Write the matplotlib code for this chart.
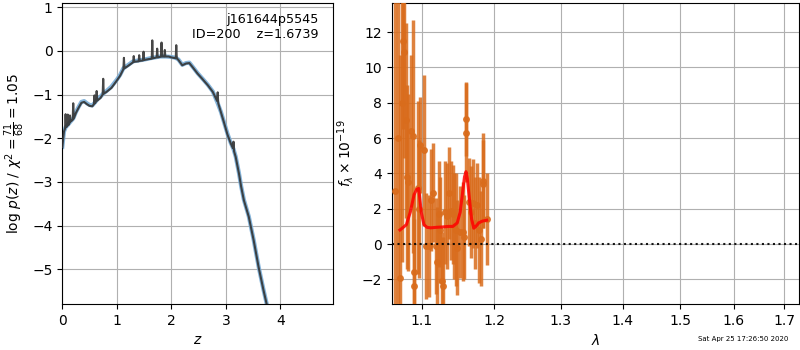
import matplotlib
matplotlib.use("Agg")
import matplotlib.pyplot as plt
from matplotlib.ticker import FixedLocator, FixedFormatter, NullLocator

# ---------------- Left panel: log p(z) ----------------
z_smooth = [0.00, 0.03, 0.06, 0.10, 0.15, 0.20, 0.25, 0.30, 0.35, 0.40, 0.45, 0.50, 0.55,
            0.60, 0.65, 0.70, 0.75, 0.81, 0.90, 1.00, 1.06, 1.12, 1.20, 1.30, 1.40, 1.50,
            1.61, 1.70, 1.79, 1.90, 2.00, 2.08, 2.13, 2.20, 2.27, 2.33, 2.40, 2.48, 2.58,
            2.67, 2.76, 2.85, 2.91, 2.97, 3.03, 3.09, 3.14, 3.18, 3.24, 3.28, 3.33, 3.42,
            3.51, 3.60, 3.69, 3.75]
logp_smooth = [-2.20, -1.85, -1.75, -1.70, -1.62, -1.55, -1.40, -1.28, -1.17, -1.15, -1.20,
               -1.24, -1.25, -1.18, -1.10, -1.05, -0.98, -0.92, -0.82, -0.66, -0.55, -0.40,
               -0.33, -0.24, -0.22, -0.20, -0.17, -0.15, -0.13, -0.13, -0.14, -0.16, -0.20,
               -0.32, -0.28, -0.27, -0.38, -0.51, -0.65, -0.78, -0.93, -1.20, -1.40, -1.65,
               -1.90, -2.11, -2.25, -2.42, -2.80, -3.10, -3.41, -3.79, -4.33, -4.94, -5.47,
               -5.80]

z_raw = [0.00, 0.03, 0.05, 0.06, 0.07, 0.09, 0.10, 0.11, 0.13, 0.14, 0.15, 0.17, 0.19,
         0.20, 0.21, 0.25, 0.30, 0.35, 0.40, 0.45, 0.50, 0.55, 0.58, 0.59, 0.60, 0.62,
         0.63, 0.64, 0.70, 0.74, 0.75, 0.76, 0.81, 0.90, 1.00, 1.06, 1.12, 1.13, 1.14,
         1.20, 1.30, 1.31, 1.32, 1.40, 1.41, 1.42, 1.48, 1.49, 1.50, 1.58, 1.64, 1.65,
         1.66, 1.70, 1.73, 1.74, 1.75, 1.79, 1.81, 1.82, 1.83, 1.87, 1.88, 1.89, 1.95,
         2.00, 2.08, 2.09, 2.10, 2.13, 2.20, 2.27, 2.33, 2.40, 2.48, 2.58, 2.67, 2.76,
         2.84, 2.85, 2.86, 2.91, 2.97, 3.03, 3.09, 3.13, 3.14, 3.15, 3.18, 3.24, 3.28,
         3.33, 3.42, 3.51, 3.60, 3.69, 3.75]
logp_raw = [-2.20, -1.85, -1.78, -1.45, -1.75, -1.72, -1.46, -1.70, -1.66, -1.48, -1.62,
            -1.60, -1.58, -1.20, -1.55, -1.42, -1.30, -1.19, -1.17, -1.22, -1.26, -1.27,
            -1.22, -1.02, -1.20, -1.16, -0.92, -1.14, -1.08, -1.00, -0.64, -0.98, -0.94,
            -0.85, -0.68, -0.57, -0.42, -0.16, -0.40, -0.35, -0.26, -0.12, -0.25, -0.24,
            -0.10, -0.23, -0.22, -0.02, -0.21, -0.19, -0.18, 0.24, -0.17, -0.16, -0.15,
            0.05, -0.15, -0.14, -0.13, 0.19, -0.13, -0.13, 0.02, -0.13, -0.13, -0.15,
            -0.17, 0.13, -0.17, -0.21, -0.33, -0.29, -0.28, -0.39, -0.52, -0.66, -0.79,
            -0.94, -1.15, -0.95, -1.20, -1.41, -1.66, -1.92, -2.12, -2.23, -2.08, -2.30,
            -2.43, -2.81, -3.11, -3.42, -3.80, -4.34, -4.95, -5.48, -5.81]

# ---------------- Right panel: spectrum ----------------
wave = [1.0656, 1.0690, 1.0717, 1.0740, 1.0759, 1.0772, 1.0790, 1.0804, 1.0824, 1.0859,
        1.0882, 1.0899, 1.0905, 1.0947, 1.0962, 1.0978, 1.1031, 1.1057, 1.1097, 1.1123,
        1.1146, 1.1187, 1.1200, 1.1231, 1.1244, 1.1275, 1.1280, 1.1312, 1.1336, 1.1371,
        1.1394, 1.1420, 1.1440, 1.1460, 1.1481, 1.1518, 1.1556, 1.1578, 1.1598, 1.1604,
        1.1643, 1.1675, 1.1703, 1.1730, 1.1759, 1.1787, 1.1807, 1.1836, 1.1845, 1.1893]
flux = [3.0, 6.0, -1.9, 8.0, 11.5, 10.9, 7.0, 3.8, 3.5, 6.4,
        6.1, -1.6, -2.4, 3.2, 2.0, 5.6, 5.3, -0.1, -0.1, 2.5,
        2.9, -0.1, -1.0, 1.7, 0.8, -2.1, -2.4, 1.8, 1.6, 2.9,
        1.9, 1.7, 1.0, 0.8, -0.2, 0.7, 0.7, 0.4, 7.1, 6.3,
        2.4, 1.8, 2.3, 1.2, 2.2, 0.8, 0.3, 3.6, 3.4, 1.4]
err = [12.0, 11.0, 12.6, 9.0, 5.0, 6.0, 5.5, 5.2, 5.0, 4.3,
       6.6, 4.5, 3.8, 4.9, 3.9, 2.7, 4.3, 3.0, 2.9, 2.9,
       2.8, 2.7, 3.1, 3.0, 3.0, 2.8, 2.8, 2.9, 3.0, 2.6,
       2.8, 2.8, 3.0, 3.2, 2.7, 2.6, 2.8, 2.4, 2.1, 2.8,
       2.5, 2.6, 2.5, 2.6, 2.4, 3.0, 2.7, 2.7, 2.5, 2.6]

model_wave = [1.0717, 1.0760, 1.0800, 1.0850, 1.0900, 1.0935, 1.0961, 1.0995, 1.1030,
              1.1070, 1.1120, 1.1200, 1.1280, 1.1360, 1.1420, 1.1480, 1.1520, 1.1550,
              1.1580, 1.1601, 1.1620, 1.1650, 1.1680, 1.1710, 1.1740, 1.1780, 1.1830,
              1.1893]
model_flux = [0.80, 0.95, 1.10, 1.80, 2.80, 3.10, 3.15, 1.80, 1.10,
              0.95, 0.92, 0.95, 0.97, 1.00, 1.00, 1.20, 1.80, 2.80,
              3.80, 4.10, 3.70, 2.50, 1.40, 0.90, 1.00, 1.20, 1.30,
              1.35]

xticks_r = [1.1, 1.2, 1.3, 1.4, 1.5, 1.6, 1.7]
xticklabels_r = ['1.1', '1.2', '1.3', '1.4', '1.5', '1.6', '1.7']

obj_name = 'j161644p5545'
obj_id = 200
z_best = 1.6739
date_str = 'Sat Apr 25 17:26:50 2020'

fig = plt.figure(figsize=(8, 3.5), dpi=100)
ax1 = fig.add_axes([0.0779, 0.131, 0.3387, 0.861])
ax2 = fig.add_axes([0.4896, 0.131, 0.5091, 0.861])

# left
ax1.plot(z_smooth, logp_smooth, color='#78acd6', lw=3.0, alpha=0.9, zorder=2)
ax1.plot(z_raw, logp_raw, color='#333333', lw=1.5, alpha=0.9, zorder=3)
ax1.set_xlim(0, 4.97)
ax1.set_ylim(-5.8, 1.1)
ax1.set_xticks([0, 1, 2, 3, 4])
ax1.set_yticks([-5, -4, -3, -2, -1, 0, 1])
ax1.grid(True)
ax1.set_axisbelow(True)
ax1.set_xlabel(r'$z$')
ax1.set_ylabel(r'$\log\,p(z)$ / $\chi^2=\frac{71}{68}=1.05$')
ax1.text(0.945, 0.965, '{0}\nID={1}    z={2:.4f}'.format(obj_name, obj_id, z_best),
         transform=ax1.transAxes, ha='right', va='top', fontsize=9.2, linespacing=1.15)

# right
ax2.errorbar(wave, flux, yerr=err, fmt='o', color='#d96c1c', ecolor='#d96c1c',
             alpha=0.85, ms=4, elinewidth=2.5, capsize=0, zorder=3)
ax2.plot(model_wave, model_flux, color='red', lw=2.2, alpha=0.85, zorder=4)
ax2.axhline(0, color='k', linestyle=':', lw=1.5, alpha=0.9, zorder=5)
ax2.set_xscale('log')
ax2.set_xlim(1.0611, 1.7302)
ax2.xaxis.set_major_locator(FixedLocator(xticks_r))
ax2.xaxis.set_major_formatter(FixedFormatter(xticklabels_r))
ax2.xaxis.set_minor_locator(NullLocator())
ax2.set_ylim(-3.4, 13.66)
ax2.set_yticks([-2, 0, 2, 4, 6, 8, 10, 12])
ax2.grid(True)
ax2.set_axisbelow(True)
ax2.set_xlabel(r'$\lambda$')
ax2.set_ylabel(r'$f_\lambda\times10^{-19}$')

fig.text(0.985, 0.03, date_str, ha='right', va='center', fontsize=5)

fig.savefig('out.png', dpi=100)
